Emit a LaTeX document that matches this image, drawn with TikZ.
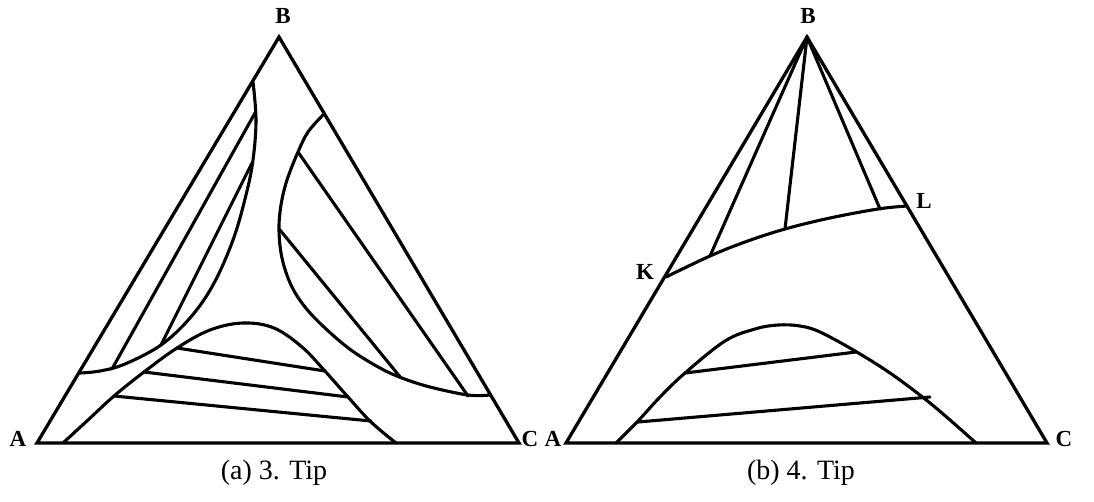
\documentclass[tikz,border=0pt]{standalone}
\usepackage{fontspec}
\setmainfont{Liberation Serif}
\begin{document}
\begin{tikzpicture}[x=1pt,y=-1pt,
  edge/.style={line width=3.3pt,line join=miter},
  crv/.style={line width=3.1pt,line cap=round,line join=round},
  vlab/.style={font=\fontsize{23}{23}\selectfont\bfseries,inner sep=0pt},
  captext/.style={font=\fontsize{28}{28}\selectfont,inner sep=0pt}]
\useasboundingbox (0,0) rectangle (1094,501);
% ---------- (a) ----------
\coordinate (A1) at (37,443);
\coordinate (B1) at (279,37);
\coordinate (C1) at (519,443);
\draw[edge] (A1) -- (B1) -- (C1) -- cycle;
\node[vlab] (lA1) at (18,439) {A};
\node[vlab] (lB1) at (283,16) {B};
\node[vlab] (lC1) at (530,439) {C};
% left region
\draw[crv] plot[smooth,tension=0.6] coordinates {(80,373) (100,371) (125,364) (161,345) (190,318) (213,285) (233,240) (246,195) (253,160) (256,120) (253,82)};
\draw[crv] (112,369) -- (255,113);
\draw[crv] (161,345) -- (252,163);
% right region
\draw[crv] plot[smooth,tension=0.6] coordinates {(323,115) (308,132) (298,152) (287,180) (281,205) (279,230) (282,258) (291,285) (305,307) (325,328) (351,350) (380,368) (402,378) (430,387) (468,395) (490,395)};
\draw[crv] (298,152) -- (468,396);
\draw[crv] (280,230) -- (401,378);
% bottom region
\draw[crv] plot[smooth,tension=0.6] coordinates {(63,443) (88,420) (114,396) (144,372) (177,348) (210,330) (243,323) (274,328) (302,347) (324,370) (348,397) (371,422) (396,443)};
\draw[crv] (177,348) -- (325,371);
\draw[crv] (144,372) -- (348,397);
\draw[crv] (114,396) -- (371,421);
\node[captext] (capa) at (274,473) {(a) 3. Tip};
% ---------- (b) ----------
\coordinate (A2) at (566,443);
\coordinate (B2) at (807,37);
\coordinate (C2) at (1047,443);
\draw[edge] (A2) -- (B2) -- (C2) -- cycle;
\node[vlab] (lA2) at (553,439) {A};
\node[vlab] (lB2) at (808,16) {B};
\node[vlab] (lC2) at (1064,439) {C};
\coordinate (K) at (666,277);
\coordinate (L) at (907,207);
\node[vlab] (lK) at (645,272) {K};
\node[vlab] (lL) at (924,201) {L};
\draw[crv] plot[smooth,tension=0.6] coordinates {(666,277) (710,256) (745,242) (785,229) (830,218) (878,209) (907,206)};
\coordinate (t1) at (710,256);
\coordinate (t2) at (785,229);
\coordinate (t3) at (880,209);
\draw[crv] (B2) -- (t1);
\draw[crv] (B2) -- (t2);
\draw[crv] (B2) -- (t3);
\draw[crv] plot[smooth,tension=0.6] coordinates {(616,443) (638,421) (660,397) (685,373) (725,341) (755,329) (778,325) (800,326) (820,332) (855,351) (890,373) (925,399) (950,420) (976,443)};
\draw[crv] (685,373) -- (856,352);
\draw[crv] (638,422) -- (930,397);
\node[captext] (capb) at (801,473) {(b) 4. Tip};
\end{tikzpicture}
\end{document}
